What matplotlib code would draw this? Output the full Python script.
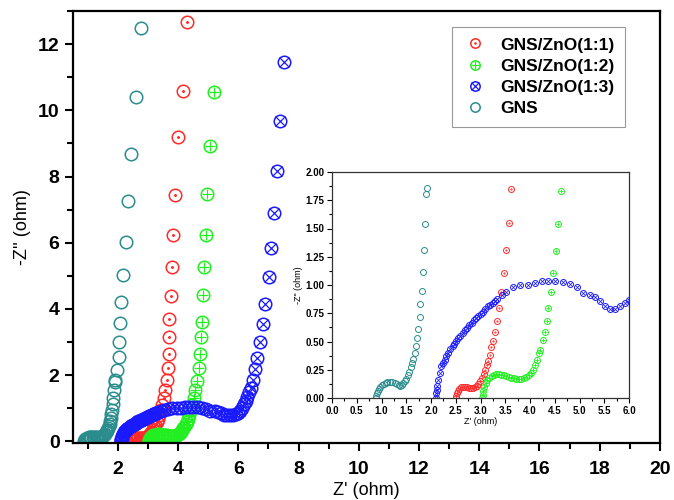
import matplotlib
matplotlib.use("Agg")
import matplotlib.pyplot as plt
from matplotlib.legend_handler import HandlerTuple
from matplotlib.ticker import MultipleLocator

plt.rcParams['font.family'] = ['Liberation Sans', 'DejaVu Sans']

# GNS/ZnO(1:1)
x11 = [2.50, 2.51, 2.52, 2.54, 2.57, 2.60, 2.64, 2.68, 2.72, 2.76, 2.80, 2.84, 2.88, 2.92,
       2.95, 2.99, 3.02, 3.06, 3.09, 3.12, 3.15, 3.18, 3.21, 3.24, 3.29, 3.33, 3.38, 3.42,
       3.47, 3.52, 3.57, 3.62, 3.65, 3.68, 3.70, 3.71, 3.75, 3.80, 3.84, 3.91, 4.00, 4.16, 4.31]
y11 = [0.00, 0.02, 0.04, 0.06, 0.08, 0.095, 0.10, 0.10, 0.095, 0.09, 0.088, 0.09, 0.095, 0.105,
       0.12, 0.15, 0.18, 0.21, 0.25, 0.29, 0.33, 0.38, 0.447, 0.506, 0.585, 0.679, 0.80, 0.941,
       1.109, 1.306, 1.553, 1.847, 2.23, 2.64, 3.15, 3.71, 4.38, 5.26, 6.23, 7.44, 9.18, 10.57, 12.68]

# GNS/ZnO(1:2)
x12 = [3.03, 3.04, 3.05, 3.07, 3.10, 3.13, 3.17, 3.22, 3.27, 3.32, 3.37, 3.42, 3.47, 3.52,
       3.57, 3.62, 3.67, 3.72, 3.77, 3.82, 3.87, 3.92, 3.97, 4.02, 4.06, 4.10, 4.13, 4.17,
       4.20, 4.25, 4.29, 4.33, 4.37, 4.42, 4.47, 4.53, 4.57, 4.63, 4.69, 4.73, 4.76, 4.78,
       4.84, 4.87, 4.91, 4.97, 5.05, 5.19]
y12 = [0.00, 0.03, 0.06, 0.10, 0.13, 0.16, 0.18, 0.197, 0.205, 0.21, 0.21, 0.205, 0.20, 0.195,
       0.19, 0.18, 0.175, 0.17, 0.168, 0.17, 0.176, 0.19, 0.205, 0.225, 0.25, 0.29, 0.34, 0.40,
       0.426, 0.51, 0.588, 0.685, 0.80, 0.94, 1.11, 1.30, 1.54, 1.83, 2.22, 2.64, 3.14, 3.62,
       4.43, 5.27, 6.24, 7.47, 8.91, 10.56]

# GNS/ZnO(1:3)
x13 = [2.09, 2.10, 2.11, 2.12, 2.14, 2.17, 2.21, 2.25, 2.28, 2.31, 2.34, 2.39, 2.44, 2.47,
       2.51, 2.55, 2.59, 2.64, 2.68, 2.72, 2.77, 2.82, 2.86, 2.90, 2.95, 3.00, 3.04, 3.09,
       3.14, 3.19, 3.24, 3.29, 3.34, 3.43, 3.52, 3.66, 3.79, 3.95, 4.09, 4.23, 4.36, 4.50,
       4.67, 4.80, 4.94, 5.07, 5.21, 5.31, 5.41, 5.51, 5.61, 5.71, 5.81, 5.91, 6.00, 6.06,
       6.12, 6.19, 6.25, 6.30, 6.36, 6.41, 6.47, 6.54, 6.63, 6.72, 6.82, 6.89, 7.02, 7.10,
       7.19, 7.28, 7.38, 7.52]
y13 = [0.00, 0.04, 0.07, 0.11, 0.16, 0.22, 0.28, 0.31, 0.34, 0.37, 0.40, 0.43, 0.456, 0.48,
       0.506, 0.53, 0.553, 0.577, 0.60, 0.623, 0.647, 0.668, 0.69, 0.708, 0.726, 0.745, 0.765, 0.788,
       0.81, 0.827, 0.844, 0.862, 0.88, 0.91, 0.94, 0.98, 1.00, 1.00, 1.02, 1.035, 1.035, 1.035,
       1.024, 1.006, 0.985, 0.93, 0.91, 0.89, 0.86, 0.81, 0.79, 0.79, 0.81, 0.84, 0.87, 0.93,
       1.00, 1.13, 1.23, 1.35, 1.48, 1.61, 1.86, 2.18, 2.52, 2.99, 3.54, 4.16, 4.95, 5.84,
       6.90, 8.16, 9.67, 11.45]

# GNS
xg = [0.88, 0.89, 0.90, 0.92, 0.94, 0.97, 1.00, 1.04, 1.08, 1.12, 1.17, 1.22, 1.27, 1.31,
      1.35, 1.38, 1.41, 1.44, 1.47, 1.50, 1.53, 1.56, 1.59, 1.62, 1.64, 1.67, 1.69, 1.72,
      1.74, 1.77, 1.78, 1.81, 1.83, 1.85, 1.87, 1.90, 1.91, 1.98, 2.02, 2.05, 2.07, 2.11,
      2.17, 2.26, 2.34, 2.45, 2.61, 2.78]
yg = [0.00, 0.02, 0.04, 0.06, 0.08, 0.10, 0.115, 0.125, 0.135, 0.14, 0.143, 0.14, 0.13, 0.12,
      0.112, 0.11, 0.115, 0.13, 0.15, 0.17, 0.20, 0.23, 0.27, 0.31, 0.344, 0.397, 0.456, 0.529,
      0.612, 0.715, 0.829, 0.944, 1.118, 1.309, 1.538, 1.806, 1.86, 2.17, 2.55, 3.0, 3.57, 4.22,
      5.04, 6.02, 7.26, 8.67, 10.4, 12.5]

labels = ['GNS/ZnO(1:1)', 'GNS/ZnO(1:2)', 'GNS/ZnO(1:3)', 'GNS']
colors = ['#ff2a2a', '#22ee22', '#1a1aff', '#2a8c8c']
inner = ['.', '+', 'x', None]


def draw(ax, x, y, c, mk, ms, mew):
    h1, = ax.plot(x, y, 'o', ms=ms, mfc='none', mec=c, mew=mew, ls='none')
    if mk is None:
        return h1
    if mk == '.':
        h2, = ax.plot(x, y, '.', ms=ms * 0.25, color=c, ls='none')
    else:
        h2, = ax.plot(x, y, mk, ms=ms * 0.75, color=c, mew=mew * 0.8, ls='none')
    return (h1, h2)


fig = plt.figure(figsize=(6.74, 5.0), dpi=100)
ax = fig.add_axes([0.108, 0.114, 0.871, 0.864])

data = [(x11, y11), (x12, y12), (x13, y13), (xg, yg)]
handles = []
for (x, y), c, mk in zip(data, colors, inner):
    handles.append(draw(ax, x, y, c, mk, 9, 1.1))

ax.set_xlim(0.5, 20)
ax.set_ylim(-0.05, 13)
ax.xaxis.set_major_locator(MultipleLocator(2))
ax.xaxis.set_minor_locator(MultipleLocator(1))
ax.yaxis.set_major_locator(MultipleLocator(2))
ax.yaxis.set_minor_locator(MultipleLocator(1))
ax.tick_params(which='both', direction='out', width=1.5, top=False, right=False)
ax.tick_params(which='major', length=6, labelsize=14)
ax.tick_params(axis='x', which='major', pad=7)
ax.tick_params(which='minor', length=4)
for lab in ax.get_xticklabels() + ax.get_yticklabels():
    lab.set_fontweight('bold')
for s in ax.spines.values():
    s.set_linewidth(1.6)
ax.set_xlabel("Z' (ohm)", fontsize=13, labelpad=3)
ax.set_ylabel("-Z'' (ohm)", fontsize=13, labelpad=5)

leg = ax.legend(handles, labels, handler_map={tuple: HandlerTuple(ndivide=1)},
                loc='upper left', bbox_to_anchor=(0.646, 0.963), borderaxespad=0,
                fancybox=False, edgecolor='#999999', framealpha=1,
                prop={'weight': 'bold', 'size': 12.5}, handlelength=1.5,
                handletextpad=0.7, labelspacing=0.35, borderpad=0.6, markerscale=0.75)
leg.get_frame().set_linewidth(0.8)

# inset
ins = fig.add_axes([0.4926, 0.204, 0.441, 0.452])
for (x, y), c, mk in zip(data, colors, inner):
    draw(ins, x, y, c, mk, 4.3, 0.7)
ins.set_xlim(0, 6)
ins.set_ylim(0, 2)
ins.xaxis.set_major_locator(MultipleLocator(0.5))
ins.xaxis.set_minor_locator(MultipleLocator(0.25))
ins.yaxis.set_major_locator(MultipleLocator(0.25))
ins.yaxis.set_minor_locator(MultipleLocator(0.125))
ins.tick_params(which='both', direction='out', width=0.8, top=False, right=False)
ins.tick_params(which='major', length=3.5, labelsize=7, pad=2)
ins.tick_params(which='minor', length=2)
for lab in ins.get_xticklabels() + ins.get_yticklabels():
    lab.set_fontweight('bold')
for s in ins.spines.values():
    s.set_linewidth(0.9)
    s.set_color('#333333')
ins.set_xlabel("Z' (ohm)", fontsize=6.5, labelpad=1)
ins.set_ylabel('-Z" (ohm)', fontsize=6.5, labelpad=2)

fig.savefig('out.png', dpi=100)
